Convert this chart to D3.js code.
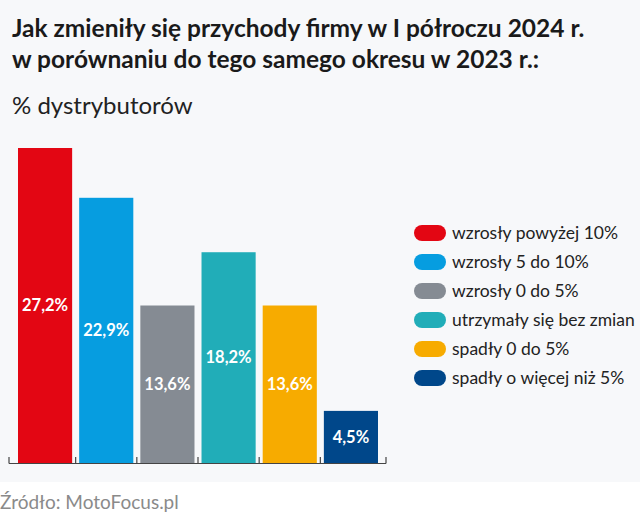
<!DOCTYPE html>
<html><head><meta charset="utf-8">
<script src="https://cdn.jsdelivr.net/npm/d3@7"></script>
<style>html,body{margin:0;padding:0;background:#fff;}svg{display:block;}</style>
</head><body>
<script>
const categories = ["wzrosły powyżej 10%","wzrosły 5 do 10%","wzrosły 0 do 5%","utrzymały się bez zmian","spadły 0 do 5%","spadły o więcej niż 5%"];
const values = [27.2, 22.9, 13.6, 18.2, 13.6, 4.5];
const valueLabels = ["27,2%","22,9%","13,6%","18,2%","13,6%","4,5%"];
const colors = ["#e30613","#069de0","#858b93","#21adb8","#f7ab00","#00478a"];
const titleLines = ["Jak zmieniły się przychody firmy w I półroczu 2024 r.","w porównaniu do tego samego okresu w 2023 r.:"];
const subtitle = "% dystrybutorów";
const source = "Źródło: MotoFocus.pl";

const W = 640, H = 519;
const svg = d3.select("body").append("svg").attr("width", W).attr("height", H);
svg.append("rect").attr("x",0).attr("y",0).attr("width",W).attr("height",482).attr("fill","#f7f8fa");

const font = "Lato, 'Open Sans', sans-serif";
svg.selectAll("text.title").data(titleLines).join("text")
  .attr("x", 12).attr("y", (d,i)=> 37 + i*31)
  .attr("font-family", font).attr("font-weight", 700).attr("font-size", 24.5)
  .attr("fill", "#1a1a1a").text(d=>d);
svg.append("text").attr("x", 12).attr("y", 114)
  .attr("font-family", font).attr("font-size", 24).attr("fill","#222").text(subtitle);

const baseY = 463;
const x = d3.scaleBand().domain(categories).range([18, 378]).paddingInner(0.115).paddingOuter(0);
const y = d3.scaleLinear().domain([0, 27.2]).range([baseY, 148]);

svg.selectAll("rect.bar").data(values).join("rect").attr("class","bar")
  .attr("x", (d,i)=> x(categories[i])).attr("width", x.bandwidth())
  .attr("y", d=> y(d)).attr("height", d=> baseY - y(d))
  .attr("fill", (d,i)=> colors[i]);

svg.selectAll("text.val").data(values).join("text").attr("class","val")
  .attr("x", (d,i)=> x(categories[i]) + x.bandwidth()/2)
  .attr("y", d=> (y(d)+baseY)/2)
  .attr("dy","0.35em").attr("text-anchor","middle")
  .attr("font-family", font).attr("font-weight",700).attr("font-size",16.5)
  .attr("fill","#fff").text((d,i)=> valueLabels[i]);

// axis
const step = x.step(), gap = step * x.paddingInner();
const tickXs = [9].concat(categories.slice(1).map(c=> x(c) - gap/2)).concat([386]);
const axisG = svg.append("g").attr("stroke","#444").attr("stroke-width",1.2);
axisG.append("line").attr("x1",9).attr("x2",386).attr("y1",baseY+0.5).attr("y2",baseY+0.5);
axisG.selectAll("line.tick").data(tickXs).join("line")
  .attr("x1",d=>d).attr("x2",d=>d).attr("y1",baseY-6).attr("y2",baseY+0.5);

// legend
const lg = svg.append("g");
categories.forEach((c,i)=>{
  const cy = 233 + i*29;
  lg.append("rect").attr("x",414).attr("y",cy-8).attr("width",32).attr("height",16).attr("rx",8).attr("fill",colors[i]);
  lg.append("text").attr("x",452).attr("y",cy).attr("dy","0.35em")
    .attr("font-family",font).attr("font-size",17.5).attr("fill","#222").text(c);
});

svg.append("text").attr("x",0).attr("y",509)
  .attr("font-family",font).attr("font-size",19).attr("fill","#8a8a8a").text(source);
</script>
</body></html>
